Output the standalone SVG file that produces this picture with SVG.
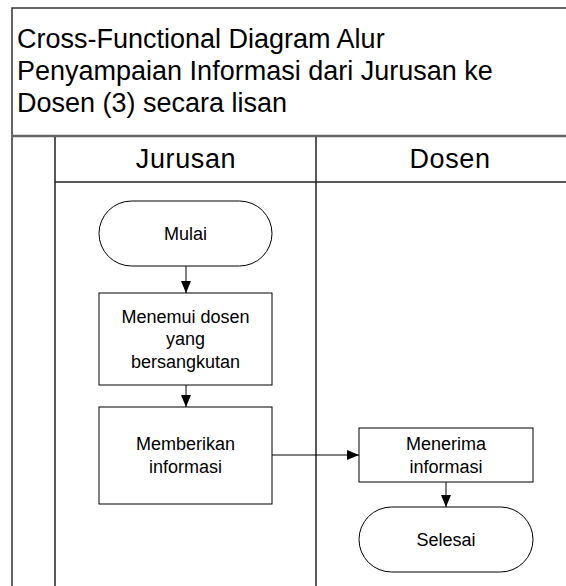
<svg xmlns="http://www.w3.org/2000/svg" width="566" height="586" viewBox="0 0 566 586">
<defs>
<marker id="ah" markerWidth="12" markerHeight="10" refX="12" refY="5" orient="auto" markerUnits="userSpaceOnUse">
<path d="M0,0 L12,5 L0,10 Z" fill="#000"/>
</marker>
</defs>
<style>
.frame{fill:none;stroke:#333;stroke-width:1.5}
.div{fill:none;stroke:#666;stroke-width:2.5}
.lane{fill:none;stroke:#222;stroke-width:1.5}
.shape{fill:#fff;stroke:#000;stroke-width:1}
.conn{fill:none;stroke:#000;stroke-width:1;marker-end:url(#ah)}
text{font-family:"Liberation Sans",Arial,sans-serif;fill:#000}
.title{font-size:27px}
.hdr{font-size:27px;text-anchor:middle;letter-spacing:0.6px}
.lbl{font-size:18px;text-anchor:middle}
</style>
<rect width="566" height="586" fill="#fff"/>
<g id="pool">
<rect class="frame" x="12" y="8" width="580" height="600"/>
<line class="div" x1="12" y1="136" x2="566" y2="136"/>
<text class="title" x="17" y="48">Cross-Functional Diagram Alur</text>
<text class="title" x="17" y="80">Penyampaian Informasi dari Jurusan ke</text>
<text class="title" x="17" y="112">Dosen (3) secara lisan</text>
</g>
<g id="lane-jurusan">
<line class="lane" x1="55" y1="137" x2="55" y2="586"/>
<line class="lane" x1="55" y1="182" x2="566" y2="182"/>
<text class="hdr" x="186" y="168">Jurusan</text>
</g>
<g id="lane-dosen">
<line class="lane" x1="316" y1="137" x2="316" y2="586"/>
<text class="hdr" x="450" y="168">Dosen</text>
</g>
<g id="connectors">
<line class="conn" x1="186" y1="266" x2="186" y2="293"/>
<line class="conn" x1="186" y1="385" x2="186" y2="407"/>
<line class="conn" x1="272" y1="455" x2="359" y2="455"/>
<line class="conn" x1="446" y1="482" x2="446" y2="507"/>
</g>
<g id="mulai">
<rect class="shape" x="99" y="201" width="173" height="65" rx="32.5" ry="32.5"/>
<text class="lbl" x="185.5" y="240">Mulai</text>
</g>
<g id="menemui">
<rect class="shape" x="99" y="293" width="173" height="92"/>
<text class="lbl" x="185.5" y="323">Menemui dosen</text>
<text class="lbl" x="185.5" y="345">yang</text>
<text class="lbl" x="185.5" y="368">bersangkutan</text>
</g>
<g id="memberikan">
<rect class="shape" x="99" y="407" width="173" height="97"/>
<text class="lbl" x="185.5" y="450">Memberikan</text>
<text class="lbl" x="185.5" y="473">informasi</text>
</g>
<g id="menerima">
<rect class="shape" x="359" y="428" width="174" height="54"/>
<text class="lbl" x="446" y="450">Menerima</text>
<text class="lbl" x="446" y="473">informasi</text>
</g>
<g id="selesai">
<rect class="shape" x="359" y="507" width="174" height="65" rx="32.5" ry="32.5"/>
<text class="lbl" x="446" y="546">Selesai</text>
</g>
</svg>
